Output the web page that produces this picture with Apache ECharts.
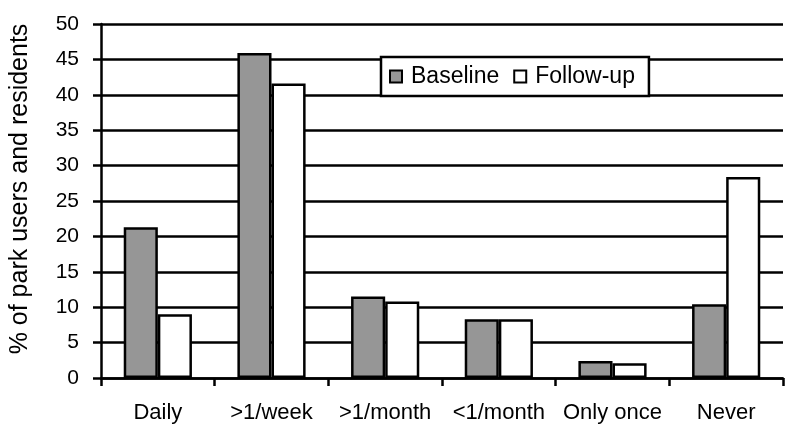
<!DOCTYPE html>
<html>
<head>
<meta charset="utf-8">
<script src="https://cdn.jsdelivr.net/npm/echarts@6/dist/echarts.min.js"></script>
<style>html,body{margin:0;padding:0;background:#fff;}#c{width:800px;height:439px;}</style>
</head>
<body>
<div id="c"></div>
<script>
var categories = ['Daily', '>1/week', '>1/month', '<1/month', 'Only once', 'Never'];
var baseline = [21.3, 45.9, 11.5, 8.3, 2.4, 10.4];
var followUp = [9.0, 41.6, 10.8, 8.3, 2.1, 28.4];
var yTicks = {min: 0, max: 50, interval: 5};
var seriesNames = ['Baseline', 'Follow-up'];

var chart = echarts.init(document.getElementById('c'), null, {renderer: 'canvas'});
var font = 'Liberation Sans, Arial, sans-serif';
var lw = 2.5;
chart.setOption({
  animation: false,
  backgroundColor: '#fff',
  grid: {left: 101, right: 17, top: 24, bottom: 61},
  legend: {
    left: 381, top: 57,
    data: seriesNames,
    backgroundColor: '#fff',
    borderColor: '#000', borderWidth: lw,
    padding: [8, 14, 8, 8],
    itemWidth: 12, itemHeight: 12, itemGap: 14,
    icon: 'rect',
    textStyle: {fontFamily: font, fontSize: 23, color: '#000', padding: [0, 0, 0, 4]}
  },
  xAxis: {
    type: 'category',
    data: categories,
    axisLine: {lineStyle: {color: '#000', width: lw}},
    axisTick: {show: true, length: 8, lineStyle: {color: '#000', width: lw}},
    axisLabel: {interval: 0, fontFamily: font, fontSize: 22, color: '#000', margin: 24}
  },
  yAxis: {
    type: 'value',
    min: yTicks.min, max: yTicks.max, interval: yTicks.interval,
    name: '% of park users and residents',
    nameLocation: 'middle',
    nameGap: 68,
    nameTextStyle: {fontFamily: font, fontSize: 25, color: '#000', padding: [0, 0, 0, 24]},
    axisLine: {show: true, lineStyle: {color: '#000', width: lw}},
    axisTick: {show: true, length: 8, lineStyle: {color: '#000', width: lw}},
    axisLabel: {fontFamily: font, fontSize: 21, color: '#000', margin: 22},
    splitLine: {show: true, lineStyle: {color: '#000', width: lw}}
  },
  series: [
    {
      name: seriesNames[0], type: 'bar', data: baseline,
      barGap: '0%', barCategoryGap: '40%',
      itemStyle: {color: '#969696', borderColor: '#000', borderWidth: lw}
    },
    {
      name: seriesNames[1], type: 'bar', data: followUp,
      itemStyle: {color: '#fff', borderColor: '#000', borderWidth: lw}
    }
  ]
});
</script>
</body>
</html>
